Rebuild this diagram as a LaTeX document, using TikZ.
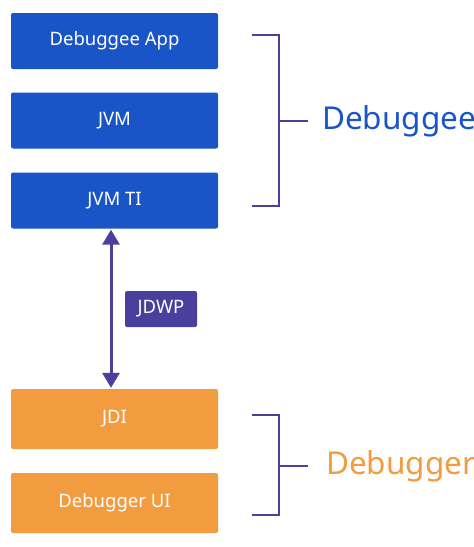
\documentclass[tikz,border=0pt]{standalone}
\usepackage{fontspec}
\setmainfont{Noto Sans}
\usepackage{tikz}
\usetikzlibrary{arrows.meta}
\definecolor{customBlue}{HTML}{1A55C8}
\definecolor{customOrange}{HTML}{F29C3F}
\definecolor{customPurple}{HTML}{4B3F9E}

\begin{document}
\begin{tikzpicture} [
    x=1pt, y=-1pt,
    debuggeeBox/.style={rectangle, rounded corners=2pt, fill=customBlue, text=white, minimum width=207pt, minimum height=56pt, font=\fontsize{18.5}{20}\selectfont},
    debuggerBox/.style={rectangle, rounded corners=2pt, fill=customOrange, text=white, minimum width=207pt, minimum height=60pt, font=\fontsize{18.5}{20}\selectfont},
    protocol/.style={rectangle, rounded corners=2pt, fill=customPurple, text=white, minimum width=72pt, minimum height=36pt, inner sep=0pt, font=\fontsize{18.5}{20}\selectfont},
    bracket/.style={draw=customPurple, line width=2pt},
    groupLabel/.style={anchor=west, inner sep=0pt, font=\fontsize{31.5}{34}\selectfont},
    arrow/.style={line width=3pt, customPurple, {Triangle[width=17pt,length=15pt]}-{Triangle[width=17pt,length=15pt]}, shorten <=1pt, shorten >=1pt}
]
    \useasboundingbox (0, 0) rectangle (474, 547);

    % debuggee side
    \node[debuggeeBox] (app) at (114.5, 41) {Debuggee App};
    \node[debuggeeBox] (jvm) at (114.5, 120.5) {JVM};
    \node[debuggeeBox] (jvmti) at (114.5, 200.5) {JVM TI};

    % debugger side
    \node[debuggerBox] (jdi) at (114.5, 419) {JDI};
    \node[debuggerBox] (ui) at (114.5, 503) {Debugger UI};

    % jdwp
    \draw [arrow] ([xshift=-3.5pt]jvmti.south) -- ([xshift=-3.5pt]jdi.north);
    \node[protocol] (jdwp) at (161, 309) {JDWP};

    % brackets
    \draw[bracket] (252, 35) -- (279, 35) -- (279, 206) -- (252, 206);
    \draw[bracket] (279, 121) -- (308, 121);
    \node[groupLabel, text=customBlue] (debuggee) at (322, 121) {Debuggee};

    \draw[bracket] (252, 415) -- (279, 415) -- (279, 515) -- (252, 515);
    \draw[bracket] (279, 466) -- (308, 466);
    \node[groupLabel, text=customOrange] (debugger) at (326, 466) {Debugger};

\end{tikzpicture}
\end{document}
